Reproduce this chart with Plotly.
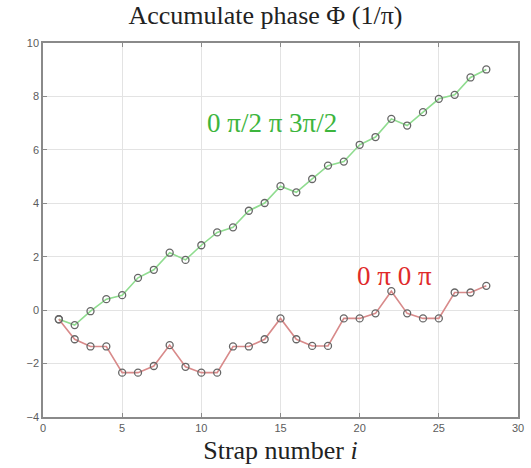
import plotly.graph_objects as go

strap = list(range(1, 29))
phase_quarter = [-0.34, -0.56, -0.04, 0.41, 0.56, 1.21, 1.51, 2.15, 1.88, 2.43,
                 2.91, 3.10, 3.72, 4.01, 4.64, 4.41, 4.91, 5.41, 5.56, 6.19,
                 6.48, 7.16, 6.91, 7.41, 7.91, 8.06, 8.71, 9.01]
phase_half = [-0.34, -1.09, -1.36, -1.36, -2.34, -2.34, -2.09, -1.31, -2.12, -2.34,
              -2.34, -1.36, -1.36, -1.09, -0.31, -1.09, -1.34, -1.34, -0.31, -0.31,
              -0.12, 0.71, -0.12, -0.31, -0.31, 0.66, 0.66, 0.91]
x_ticks = [0, 5, 10, 15, 20, 25, 30]
y_ticks = [-4, -2, 0, 2, 4, 6, 8, 10]

serif = "Liberation Serif, Times New Roman, serif"
marker = dict(symbol="circle-open", size=7, color="#666666", line=dict(width=1.3, color="#666666"))

fig = go.Figure()
fig.add_trace(go.Scatter(x=strap, y=phase_quarter, mode="lines+markers",
                         line=dict(color="#8fdc8f", width=1.6), marker=marker, showlegend=False))
fig.add_trace(go.Scatter(x=strap, y=phase_half, mode="lines+markers",
                         line=dict(color="#d88a8a", width=1.6), marker=marker, showlegend=False))

fig.add_annotation(x=14.46, y=7.0, text="0 π/2 π 3π/2", showarrow=False,
                   font=dict(family=serif, size=27, color="#3db53d"))
fig.add_annotation(x=22.2, y=1.26, text="0 π 0 π", showarrow=False,
                   font=dict(family=serif, size=27, color="#e02a2a"))

axis_common = dict(showline=True, linecolor="#8a8a8a", linewidth=1.5, mirror="ticks",
                   ticks="inside", ticklen=4, tickcolor="#8a8a8a", tickwidth=1,
                   showgrid=True, gridcolor="#e3e3e3", gridwidth=1, zeroline=False,
                   automargin=False,
                   tickfont=dict(family="Liberation Sans, Arial, sans-serif", size=11, color="#5c5c5c"))

fig.update_xaxes(range=[0, 30], tickvals=x_ticks, **axis_common,
                 title=dict(text="Strap number <i>i</i>", font=dict(family=serif, size=26, color="#222"),
                            standoff=8))
fig.update_yaxes(range=[-4, 10], tickvals=y_ticks, **axis_common)

fig.update_layout(
    template="none",
    width=531, height=468,
    margin=dict(l=43, r=13, t=43, b=51),
    font=dict(color="#5c5c5c"),
    plot_bgcolor="white", paper_bgcolor="white",
    title=dict(text="Accumulate phase Φ (1/π)", x=0.5, xanchor="center", y=0.968, yanchor="middle",
               font=dict(family=serif, size=26, color="#222")),
)

fig.write_html("out.html")
